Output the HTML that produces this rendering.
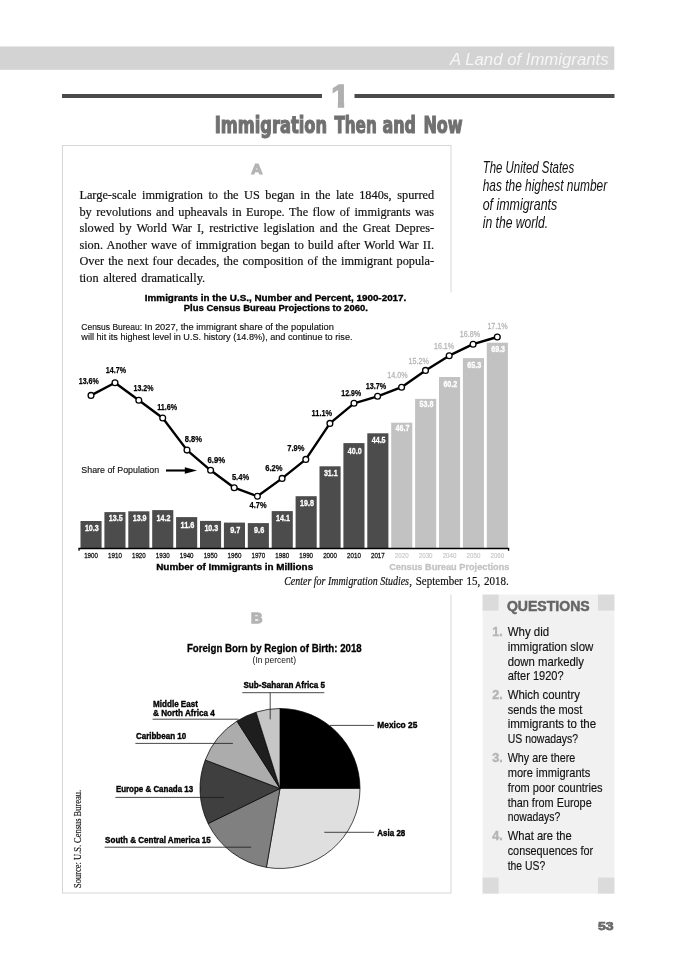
<!DOCTYPE html>
<html lang="en">
<head>
<meta charset="utf-8">
<title>Immigration Then and Now</title>
<style>
html,body{margin:0;padding:0;background:#fff;}
body{width:700px;height:972px;overflow:hidden;}
svg{display:block;will-change:transform;}
text{white-space:pre;}
</style>
</head>
<body>
<svg width="700" height="972" viewBox="0 0 700 972">
<rect x="0" y="0" width="700" height="972" fill="#fff"/>
<rect x="0.00" y="46.50" width="614.30" height="23.30" fill="#d3d3d3" />
<text x="450.00" y="65.00" font-family='"Liberation Sans", "DejaVu Sans", sans-serif' font-size="16" font-style="italic" fill="#f6f6f6" textLength="158.60" lengthAdjust="spacingAndGlyphs">A Land of Immigrants</text>
<rect x="62.00" y="94.00" width="260.00" height="4.00" fill="#4a4a4a" />
<rect x="354.50" y="94.00" width="260.00" height="4.00" fill="#4a4a4a" />
<clipPath id="one"><path d="M320 76 H350 V100 H344.15 V110 H337.85 V100 H320 Z"/></clipPath>
<g clip-path="url(#one)">
<text x="331.30" y="106.85" font-family='"Liberation Sans", "DejaVu Sans", sans-serif' font-size="32.2" font-weight="bold" fill="#b0b0b0" stroke="#b0b0b0" stroke-width="1.5" stroke-linejoin="miter">1</text>
</g>
<g transform="translate(214.8 132.6) scale(1.3 1)">
<text x="0.00" y="0.00" font-family='"DejaVu Sans Condensed", "DejaVu Sans", sans-serif' font-size="22.5" font-weight="bold" fill="#707070" textLength="86.38" lengthAdjust="spacingAndGlyphs" stroke="#707070" stroke-width="1.1" stroke-linejoin="miter">Immigration</text>
</g>
<g transform="translate(334.4 132.6) scale(1.3 1)">
<text x="0.00" y="0.00" font-family='"DejaVu Sans Condensed", "DejaVu Sans", sans-serif' font-size="22.5" font-weight="bold" fill="#707070" textLength="32.54" lengthAdjust="spacingAndGlyphs" stroke="#707070" stroke-width="1.1" stroke-linejoin="miter">Then</text>
</g>
<g transform="translate(382.4 132.6) scale(1.3 1)">
<text x="0.00" y="0.00" font-family='"DejaVu Sans Condensed", "DejaVu Sans", sans-serif' font-size="22.5" font-weight="bold" fill="#707070" textLength="25.77" lengthAdjust="spacingAndGlyphs" stroke="#707070" stroke-width="1.1" stroke-linejoin="miter">and</text>
</g>
<g transform="translate(423.4 132.6) scale(1.3 1)">
<text x="0.00" y="0.00" font-family='"DejaVu Sans Condensed", "DejaVu Sans", sans-serif' font-size="22.5" font-weight="bold" fill="#707070" textLength="30.23" lengthAdjust="spacingAndGlyphs" stroke="#707070" stroke-width="1.1" stroke-linejoin="miter">Now</text>
</g>
<rect x="62.5" y="145.5" width="388.5" height="747.5" fill="#fff" stroke="#d6d6d6" stroke-width="1"/>
<rect x="440.00" y="292.50" width="80.00" height="302.00" fill="#fff" />
<text x="251.30" y="174.30" font-family='"Liberation Sans", "DejaVu Sans", sans-serif' font-size="14.6" font-weight="bold" fill="#b4b4b4" textLength="11.20" lengthAdjust="spacingAndGlyphs" stroke="#b4b4b4" stroke-width="1.2" stroke-linejoin="miter">A</text>
<text x="251.00" y="623.10" font-family='"Liberation Sans", "DejaVu Sans", sans-serif' font-size="14.2" font-weight="bold" fill="#b4b4b4" textLength="11.40" lengthAdjust="spacingAndGlyphs" stroke="#b4b4b4" stroke-width="1.4" stroke-linejoin="miter">B</text>
<text x="79.40" y="199.10" font-family='"Liberation Serif", "DejaVu Serif", serif' font-size="13.3" fill="#111" textLength="354.70" lengthAdjust="spacingAndGlyphs" stroke="#111" stroke-width="0.2" word-spacing="2.65">Large-scale immigration to the US began in the late 1840s, spurred</text>
<text x="79.40" y="215.60" font-family='"Liberation Serif", "DejaVu Serif", serif' font-size="13.3" fill="#111" textLength="354.70" lengthAdjust="spacingAndGlyphs" stroke="#111" stroke-width="0.2" word-spacing="1.54">by revolutions and upheavals in Europe. The flow of immigrants was</text>
<text x="79.40" y="232.10" font-family='"Liberation Serif", "DejaVu Serif", serif' font-size="13.3" fill="#111" textLength="354.70" lengthAdjust="spacingAndGlyphs" stroke="#111" stroke-width="0.2" word-spacing="2.16">slowed by World War I, restrictive legislation and the Great Depres-</text>
<text x="79.40" y="248.60" font-family='"Liberation Serif", "DejaVu Serif", serif' font-size="13.3" fill="#111" textLength="354.70" lengthAdjust="spacingAndGlyphs" stroke="#111" stroke-width="0.2" word-spacing="1.22">sion. Another wave of immigration began to build after World War II.</text>
<text x="79.40" y="265.00" font-family='"Liberation Serif", "DejaVu Serif", serif' font-size="13.3" fill="#111" textLength="354.70" lengthAdjust="spacingAndGlyphs" stroke="#111" stroke-width="0.2" word-spacing="1.15">Over the next four decades, the composition of the immigrant popula-</text>
<text x="79.40" y="281.50" font-family='"Liberation Serif", "DejaVu Serif", serif' font-size="13.3" fill="#111" textLength="125.70" lengthAdjust="spacingAndGlyphs" stroke="#111" stroke-width="0.2" word-spacing="1.72">tion altered dramatically.</text>
<text x="482.70" y="172.70" font-family='"Liberation Sans", "DejaVu Sans", sans-serif' font-size="16.6" font-style="italic" fill="#111" textLength="91.50" lengthAdjust="spacingAndGlyphs">The United States</text>
<text x="482.70" y="191.20" font-family='"Liberation Sans", "DejaVu Sans", sans-serif' font-size="16.6" font-style="italic" fill="#111" textLength="124.50" lengthAdjust="spacingAndGlyphs">has the highest number</text>
<text x="482.70" y="209.80" font-family='"Liberation Sans", "DejaVu Sans", sans-serif' font-size="16.6" font-style="italic" fill="#111" textLength="74.50" lengthAdjust="spacingAndGlyphs">of immigrants</text>
<text x="482.70" y="228.30" font-family='"Liberation Sans", "DejaVu Sans", sans-serif' font-size="16.6" font-style="italic" fill="#111" textLength="65.50" lengthAdjust="spacingAndGlyphs">in the world.</text>
<text x="275.60" y="301.00" font-family='"Liberation Sans", "DejaVu Sans", sans-serif' font-size="8.4" font-weight="bold" text-anchor="middle" textLength="261.50" lengthAdjust="spacingAndGlyphs" stroke="#000" stroke-width="0.3">Immigrants in the U.S., Number and Percent, 1900-2017.</text>
<text x="275.80" y="310.70" font-family='"Liberation Sans", "DejaVu Sans", sans-serif' font-size="8.4" font-weight="bold" text-anchor="middle" textLength="184.00" lengthAdjust="spacingAndGlyphs" stroke="#000" stroke-width="0.3">Plus Census Bureau Projections to 2060.</text>
<text x="81.30" y="329.90" font-family='"Liberation Sans", "DejaVu Sans", sans-serif' font-size="9.2" fill="#111" textLength="60.80" lengthAdjust="spacingAndGlyphs" stroke="#111" stroke-width="0.15">Census Bureau:</text>
<text x="144.60" y="329.90" font-family='"Liberation Sans", "DejaVu Sans", sans-serif' font-size="9.2" fill="#111" textLength="189.20" lengthAdjust="spacingAndGlyphs" stroke="#111" stroke-width="0.15">In 2027, the immigrant share of the population</text>
<text x="81.30" y="340.20" font-family='"Liberation Sans", "DejaVu Sans", sans-serif' font-size="9.2" fill="#111" textLength="271.20" lengthAdjust="spacingAndGlyphs" stroke="#111" stroke-width="0.15">will hit its highest level in U.S. history (14.8%), and continue to rise.</text>
<rect x="80.50" y="521.00" width="21.10" height="27.20" fill="#4c4c4c" />
<text x="91.85" y="530.70" font-family='"Liberation Sans", "DejaVu Sans", sans-serif' font-size="9.1" font-weight="bold" fill="#fff" text-anchor="middle" textLength="13.90" lengthAdjust="spacingAndGlyphs" stroke="#fff" stroke-width="0.3">10.3</text>
<text x="91.05" y="558.35" font-family='"Liberation Sans", "DejaVu Sans", sans-serif' font-size="8.0" fill="#111" text-anchor="middle" textLength="13.80" lengthAdjust="spacingAndGlyphs" stroke="#111" stroke-width="0.3">1900</text>
<rect x="104.40" y="512.10" width="21.10" height="36.10" fill="#4c4c4c" />
<text x="115.75" y="521.30" font-family='"Liberation Sans", "DejaVu Sans", sans-serif' font-size="9.1" font-weight="bold" fill="#fff" text-anchor="middle" textLength="13.90" lengthAdjust="spacingAndGlyphs" stroke="#fff" stroke-width="0.3">13.5</text>
<text x="114.95" y="558.35" font-family='"Liberation Sans", "DejaVu Sans", sans-serif' font-size="8.0" fill="#111" text-anchor="middle" textLength="13.80" lengthAdjust="spacingAndGlyphs" stroke="#111" stroke-width="0.3">1910</text>
<rect x="128.30" y="511.30" width="21.10" height="36.90" fill="#4c4c4c" />
<text x="139.65" y="521.10" font-family='"Liberation Sans", "DejaVu Sans", sans-serif' font-size="9.1" font-weight="bold" fill="#fff" text-anchor="middle" textLength="13.90" lengthAdjust="spacingAndGlyphs" stroke="#fff" stroke-width="0.3">13.9</text>
<text x="138.85" y="558.35" font-family='"Liberation Sans", "DejaVu Sans", sans-serif' font-size="8.0" fill="#111" text-anchor="middle" textLength="13.80" lengthAdjust="spacingAndGlyphs" stroke="#111" stroke-width="0.3">1920</text>
<rect x="152.20" y="510.10" width="21.10" height="38.10" fill="#4c4c4c" />
<text x="163.55" y="520.60" font-family='"Liberation Sans", "DejaVu Sans", sans-serif' font-size="9.1" font-weight="bold" fill="#fff" text-anchor="middle" textLength="13.90" lengthAdjust="spacingAndGlyphs" stroke="#fff" stroke-width="0.3">14.2</text>
<text x="162.75" y="558.35" font-family='"Liberation Sans", "DejaVu Sans", sans-serif' font-size="8.0" fill="#111" text-anchor="middle" textLength="13.80" lengthAdjust="spacingAndGlyphs" stroke="#111" stroke-width="0.3">1930</text>
<rect x="176.10" y="517.10" width="21.10" height="31.10" fill="#4c4c4c" />
<text x="187.45" y="527.60" font-family='"Liberation Sans", "DejaVu Sans", sans-serif' font-size="9.1" font-weight="bold" fill="#fff" text-anchor="middle" textLength="13.90" lengthAdjust="spacingAndGlyphs" stroke="#fff" stroke-width="0.3">11.6</text>
<text x="186.65" y="558.35" font-family='"Liberation Sans", "DejaVu Sans", sans-serif' font-size="8.0" fill="#111" text-anchor="middle" textLength="13.80" lengthAdjust="spacingAndGlyphs" stroke="#111" stroke-width="0.3">1940</text>
<rect x="200.00" y="520.90" width="21.10" height="27.30" fill="#4c4c4c" />
<text x="211.35" y="530.90" font-family='"Liberation Sans", "DejaVu Sans", sans-serif' font-size="9.1" font-weight="bold" fill="#fff" text-anchor="middle" textLength="13.90" lengthAdjust="spacingAndGlyphs" stroke="#fff" stroke-width="0.3">10.3</text>
<text x="210.55" y="558.35" font-family='"Liberation Sans", "DejaVu Sans", sans-serif' font-size="8.0" fill="#111" text-anchor="middle" textLength="13.80" lengthAdjust="spacingAndGlyphs" stroke="#111" stroke-width="0.3">1950</text>
<rect x="223.90" y="522.60" width="21.10" height="25.60" fill="#4c4c4c" />
<text x="235.25" y="532.50" font-family='"Liberation Sans", "DejaVu Sans", sans-serif' font-size="9.1" font-weight="bold" fill="#fff" text-anchor="middle" textLength="10.20" lengthAdjust="spacingAndGlyphs" stroke="#fff" stroke-width="0.3">9.7</text>
<text x="234.45" y="558.35" font-family='"Liberation Sans", "DejaVu Sans", sans-serif' font-size="8.0" fill="#111" text-anchor="middle" textLength="13.80" lengthAdjust="spacingAndGlyphs" stroke="#111" stroke-width="0.3">1960</text>
<rect x="247.80" y="523.10" width="21.10" height="25.10" fill="#4c4c4c" />
<text x="259.15" y="532.90" font-family='"Liberation Sans", "DejaVu Sans", sans-serif' font-size="9.1" font-weight="bold" fill="#fff" text-anchor="middle" textLength="10.20" lengthAdjust="spacingAndGlyphs" stroke="#fff" stroke-width="0.3">9.6</text>
<text x="258.35" y="558.35" font-family='"Liberation Sans", "DejaVu Sans", sans-serif' font-size="8.0" fill="#111" text-anchor="middle" textLength="13.80" lengthAdjust="spacingAndGlyphs" stroke="#111" stroke-width="0.3">1970</text>
<rect x="271.70" y="511.10" width="21.10" height="37.10" fill="#4c4c4c" />
<text x="283.05" y="520.90" font-family='"Liberation Sans", "DejaVu Sans", sans-serif' font-size="9.1" font-weight="bold" fill="#fff" text-anchor="middle" textLength="13.90" lengthAdjust="spacingAndGlyphs" stroke="#fff" stroke-width="0.3">14.1</text>
<text x="282.25" y="558.35" font-family='"Liberation Sans", "DejaVu Sans", sans-serif' font-size="8.0" fill="#111" text-anchor="middle" textLength="13.80" lengthAdjust="spacingAndGlyphs" stroke="#111" stroke-width="0.3">1980</text>
<rect x="295.60" y="496.20" width="21.10" height="52.00" fill="#4c4c4c" />
<text x="306.95" y="505.90" font-family='"Liberation Sans", "DejaVu Sans", sans-serif' font-size="9.1" font-weight="bold" fill="#fff" text-anchor="middle" textLength="13.90" lengthAdjust="spacingAndGlyphs" stroke="#fff" stroke-width="0.3">19.8</text>
<text x="306.15" y="558.35" font-family='"Liberation Sans", "DejaVu Sans", sans-serif' font-size="8.0" fill="#111" text-anchor="middle" textLength="13.80" lengthAdjust="spacingAndGlyphs" stroke="#111" stroke-width="0.3">1990</text>
<rect x="319.50" y="466.30" width="21.10" height="81.90" fill="#4c4c4c" />
<text x="330.85" y="476.10" font-family='"Liberation Sans", "DejaVu Sans", sans-serif' font-size="9.1" font-weight="bold" fill="#fff" text-anchor="middle" textLength="13.90" lengthAdjust="spacingAndGlyphs" stroke="#fff" stroke-width="0.3">31.1</text>
<text x="330.05" y="558.35" font-family='"Liberation Sans", "DejaVu Sans", sans-serif' font-size="8.0" fill="#111" text-anchor="middle" textLength="13.80" lengthAdjust="spacingAndGlyphs" stroke="#111" stroke-width="0.3">2000</text>
<rect x="343.40" y="443.10" width="21.10" height="105.10" fill="#4c4c4c" />
<text x="354.75" y="453.60" font-family='"Liberation Sans", "DejaVu Sans", sans-serif' font-size="9.1" font-weight="bold" fill="#fff" text-anchor="middle" textLength="13.90" lengthAdjust="spacingAndGlyphs" stroke="#fff" stroke-width="0.3">40.0</text>
<text x="353.95" y="558.35" font-family='"Liberation Sans", "DejaVu Sans", sans-serif' font-size="8.0" fill="#111" text-anchor="middle" textLength="13.80" lengthAdjust="spacingAndGlyphs" stroke="#111" stroke-width="0.3">2010</text>
<rect x="367.30" y="433.30" width="21.10" height="114.90" fill="#4c4c4c" />
<text x="378.65" y="443.40" font-family='"Liberation Sans", "DejaVu Sans", sans-serif' font-size="9.1" font-weight="bold" fill="#fff" text-anchor="middle" textLength="13.90" lengthAdjust="spacingAndGlyphs" stroke="#fff" stroke-width="0.3">44.5</text>
<text x="377.85" y="558.35" font-family='"Liberation Sans", "DejaVu Sans", sans-serif' font-size="8.0" fill="#111" text-anchor="middle" textLength="13.80" lengthAdjust="spacingAndGlyphs" stroke="#111" stroke-width="0.3">2017</text>
<rect x="391.20" y="422.70" width="21.10" height="125.50" fill="#c2c2c2" />
<text x="402.55" y="431.40" font-family='"Liberation Sans", "DejaVu Sans", sans-serif' font-size="9.1" font-weight="bold" fill="#fff" text-anchor="middle" textLength="13.90" lengthAdjust="spacingAndGlyphs" stroke="#fff" stroke-width="0.3">46.7</text>
<text x="401.75" y="558.35" font-family='"Liberation Sans", "DejaVu Sans", sans-serif' font-size="8.0" fill="#c2c2c2" text-anchor="middle" textLength="13.80" lengthAdjust="spacingAndGlyphs" stroke="#c2c2c2" stroke-width="0.1">2020</text>
<rect x="415.10" y="398.90" width="21.10" height="149.30" fill="#c2c2c2" />
<text x="426.45" y="407.20" font-family='"Liberation Sans", "DejaVu Sans", sans-serif' font-size="9.1" font-weight="bold" fill="#fff" text-anchor="middle" textLength="13.90" lengthAdjust="spacingAndGlyphs" stroke="#fff" stroke-width="0.3">53.8</text>
<text x="425.65" y="558.35" font-family='"Liberation Sans", "DejaVu Sans", sans-serif' font-size="8.0" fill="#c2c2c2" text-anchor="middle" textLength="13.80" lengthAdjust="spacingAndGlyphs" stroke="#c2c2c2" stroke-width="0.1">2030</text>
<rect x="439.00" y="377.00" width="21.10" height="171.20" fill="#c2c2c2" />
<text x="450.35" y="386.50" font-family='"Liberation Sans", "DejaVu Sans", sans-serif' font-size="9.1" font-weight="bold" fill="#fff" text-anchor="middle" textLength="13.90" lengthAdjust="spacingAndGlyphs" stroke="#fff" stroke-width="0.3">60.2</text>
<text x="449.55" y="558.35" font-family='"Liberation Sans", "DejaVu Sans", sans-serif' font-size="8.0" fill="#c2c2c2" text-anchor="middle" textLength="13.80" lengthAdjust="spacingAndGlyphs" stroke="#c2c2c2" stroke-width="0.1">2040</text>
<rect x="462.90" y="358.10" width="21.10" height="190.10" fill="#c2c2c2" />
<text x="474.25" y="367.80" font-family='"Liberation Sans", "DejaVu Sans", sans-serif' font-size="9.1" font-weight="bold" fill="#fff" text-anchor="middle" textLength="13.90" lengthAdjust="spacingAndGlyphs" stroke="#fff" stroke-width="0.3">65.3</text>
<text x="473.45" y="558.35" font-family='"Liberation Sans", "DejaVu Sans", sans-serif' font-size="8.0" fill="#c2c2c2" text-anchor="middle" textLength="13.80" lengthAdjust="spacingAndGlyphs" stroke="#c2c2c2" stroke-width="0.1">2050</text>
<rect x="486.80" y="342.70" width="21.10" height="205.50" fill="#c2c2c2" />
<text x="498.15" y="351.60" font-family='"Liberation Sans", "DejaVu Sans", sans-serif' font-size="9.1" font-weight="bold" fill="#fff" text-anchor="middle" textLength="13.90" lengthAdjust="spacingAndGlyphs" stroke="#fff" stroke-width="0.3">69.3</text>
<text x="497.35" y="558.35" font-family='"Liberation Sans", "DejaVu Sans", sans-serif' font-size="8.0" fill="#c2c2c2" text-anchor="middle" textLength="13.80" lengthAdjust="spacingAndGlyphs" stroke="#c2c2c2" stroke-width="0.1">2060</text>
<path d="M79.0 550.8 V548.5 H508.6 V550.8" fill="none" stroke="#000" stroke-width="1.3"/>
<text x="156.20" y="569.70" font-family='"Liberation Sans", "DejaVu Sans", sans-serif' font-size="8.6" font-weight="bold" textLength="157.00" lengthAdjust="spacingAndGlyphs" stroke="#000" stroke-width="0.3">Number of Immigrants in Millions</text>
<text x="389.20" y="569.80" font-family='"Liberation Sans", "DejaVu Sans", sans-serif' font-size="8.6" font-weight="bold" fill="#c4c4c4" textLength="120.20" lengthAdjust="spacingAndGlyphs" stroke="#c4c4c4" stroke-width="0.3">Census Bureau Projections</text>
<text x="284.20" y="585.30" font-family='"Liberation Serif", "DejaVu Serif", serif' font-size="13.3" font-style="italic" fill="#111" textLength="124.80" lengthAdjust="spacingAndGlyphs" stroke="#111" stroke-width="0.2" word-spacing="0.00">Center for Immigration Studies</text>
<text x="409.20" y="585.30" font-family='"Liberation Serif", "DejaVu Serif", serif' font-size="13.3" fill="#111" textLength="99.60" lengthAdjust="spacingAndGlyphs" stroke="#111" stroke-width="0.2" word-spacing="1.20">, September 15, 2018.</text>
<polyline points="91.0,395.4 115.0,382.8 138.8,400.3 162.7,418.0 187.0,450.1 210.6,470.3 234.2,487.7 257.4,496.3 282.1,478.4 305.8,459.4 329.9,423.4 354.0,403.3 377.6,396.3 401.6,387.2 425.5,370.4 449.2,355.7 473.1,344.2 497.3,337.0" fill="none" stroke="#000" stroke-width="2.4" stroke-linejoin="round"/>
<circle cx="91.0" cy="395.4" r="2.9" fill="#fff" stroke="#000" stroke-width="1.3"/>
<circle cx="115.0" cy="382.8" r="2.9" fill="#fff" stroke="#000" stroke-width="1.3"/>
<circle cx="138.8" cy="400.3" r="2.9" fill="#fff" stroke="#000" stroke-width="1.3"/>
<circle cx="162.7" cy="418.0" r="2.9" fill="#fff" stroke="#000" stroke-width="1.3"/>
<circle cx="187.0" cy="450.1" r="2.9" fill="#fff" stroke="#000" stroke-width="1.3"/>
<circle cx="210.6" cy="470.3" r="2.9" fill="#fff" stroke="#000" stroke-width="1.3"/>
<circle cx="234.2" cy="487.7" r="2.9" fill="#fff" stroke="#000" stroke-width="1.3"/>
<circle cx="257.4" cy="496.3" r="2.9" fill="#fff" stroke="#000" stroke-width="1.3"/>
<circle cx="282.1" cy="478.4" r="2.9" fill="#fff" stroke="#000" stroke-width="1.3"/>
<circle cx="305.8" cy="459.4" r="2.9" fill="#fff" stroke="#000" stroke-width="1.3"/>
<circle cx="329.9" cy="423.4" r="2.9" fill="#fff" stroke="#000" stroke-width="1.3"/>
<circle cx="354.0" cy="403.3" r="2.9" fill="#fff" stroke="#000" stroke-width="1.3"/>
<circle cx="377.6" cy="396.3" r="2.9" fill="#fff" stroke="#000" stroke-width="1.3"/>
<circle cx="401.6" cy="387.2" r="2.9" fill="#fff" stroke="#000" stroke-width="1.3"/>
<circle cx="425.5" cy="370.4" r="2.9" fill="#fff" stroke="#000" stroke-width="1.3"/>
<circle cx="449.2" cy="355.7" r="2.9" fill="#fff" stroke="#000" stroke-width="1.3"/>
<circle cx="473.1" cy="344.2" r="2.9" fill="#fff" stroke="#000" stroke-width="1.3"/>
<circle cx="497.3" cy="337.0" r="2.9" fill="#fff" stroke="#000" stroke-width="1.3"/>
<text x="78.70" y="384.40" font-family='"Liberation Sans", "DejaVu Sans", sans-serif' font-size="9.8" font-weight="bold" textLength="20.10" lengthAdjust="spacingAndGlyphs" stroke="#000" stroke-width="0.25">13.6%</text>
<text x="105.80" y="373.10" font-family='"Liberation Sans", "DejaVu Sans", sans-serif' font-size="9.8" font-weight="bold" textLength="20.20" lengthAdjust="spacingAndGlyphs" stroke="#000" stroke-width="0.25">14.7%</text>
<text x="133.50" y="390.60" font-family='"Liberation Sans", "DejaVu Sans", sans-serif' font-size="9.8" font-weight="bold" textLength="20.00" lengthAdjust="spacingAndGlyphs" stroke="#000" stroke-width="0.25">13.2%</text>
<text x="157.20" y="410.30" font-family='"Liberation Sans", "DejaVu Sans", sans-serif' font-size="9.8" font-weight="bold" textLength="20.00" lengthAdjust="spacingAndGlyphs" stroke="#000" stroke-width="0.25">11.6%</text>
<text x="184.80" y="441.70" font-family='"Liberation Sans", "DejaVu Sans", sans-serif' font-size="9.8" font-weight="bold" textLength="17.30" lengthAdjust="spacingAndGlyphs" stroke="#000" stroke-width="0.25">8.8%</text>
<text x="207.50" y="462.50" font-family='"Liberation Sans", "DejaVu Sans", sans-serif' font-size="9.8" font-weight="bold" textLength="17.70" lengthAdjust="spacingAndGlyphs" stroke="#000" stroke-width="0.25">6.9%</text>
<text x="231.90" y="479.70" font-family='"Liberation Sans", "DejaVu Sans", sans-serif' font-size="9.8" font-weight="bold" textLength="17.20" lengthAdjust="spacingAndGlyphs" stroke="#000" stroke-width="0.25">5.4%</text>
<text x="249.50" y="508.40" font-family='"Liberation Sans", "DejaVu Sans", sans-serif' font-size="9.8" font-weight="bold" textLength="17.10" lengthAdjust="spacingAndGlyphs" stroke="#000" stroke-width="0.25">4.7%</text>
<text x="265.30" y="470.70" font-family='"Liberation Sans", "DejaVu Sans", sans-serif' font-size="9.8" font-weight="bold" textLength="17.30" lengthAdjust="spacingAndGlyphs" stroke="#000" stroke-width="0.25">6.2%</text>
<text x="287.20" y="450.70" font-family='"Liberation Sans", "DejaVu Sans", sans-serif' font-size="9.8" font-weight="bold" textLength="17.20" lengthAdjust="spacingAndGlyphs" stroke="#000" stroke-width="0.25">7.9%</text>
<text x="311.60" y="415.90" font-family='"Liberation Sans", "DejaVu Sans", sans-serif' font-size="9.8" font-weight="bold" textLength="20.60" lengthAdjust="spacingAndGlyphs" stroke="#000" stroke-width="0.25">11.1%</text>
<text x="341.30" y="396.00" font-family='"Liberation Sans", "DejaVu Sans", sans-serif' font-size="9.8" font-weight="bold" textLength="19.80" lengthAdjust="spacingAndGlyphs" stroke="#000" stroke-width="0.25">12.9%</text>
<text x="365.70" y="388.50" font-family='"Liberation Sans", "DejaVu Sans", sans-serif' font-size="9.8" font-weight="bold" textLength="20.60" lengthAdjust="spacingAndGlyphs" stroke="#000" stroke-width="0.25">13.7%</text>
<text x="387.20" y="377.90" font-family='"Liberation Sans", "DejaVu Sans", sans-serif' font-size="9.5" fill="#b6b6b6" textLength="20.50" lengthAdjust="spacingAndGlyphs" stroke="#b6b6b6" stroke-width="0.3">14.0%</text>
<text x="408.60" y="363.70" font-family='"Liberation Sans", "DejaVu Sans", sans-serif' font-size="9.5" fill="#b6b6b6" textLength="20.40" lengthAdjust="spacingAndGlyphs" stroke="#b6b6b6" stroke-width="0.3">15.2%</text>
<text x="434.00" y="348.80" font-family='"Liberation Sans", "DejaVu Sans", sans-serif' font-size="9.5" fill="#b6b6b6" textLength="20.10" lengthAdjust="spacingAndGlyphs" stroke="#b6b6b6" stroke-width="0.3">16.1%</text>
<text x="459.80" y="337.20" font-family='"Liberation Sans", "DejaVu Sans", sans-serif' font-size="9.5" fill="#b6b6b6" textLength="20.30" lengthAdjust="spacingAndGlyphs" stroke="#b6b6b6" stroke-width="0.3">16.8%</text>
<text x="487.40" y="329.20" font-family='"Liberation Sans", "DejaVu Sans", sans-serif' font-size="9.5" fill="#b6b6b6" textLength="20.20" lengthAdjust="spacingAndGlyphs" stroke="#b6b6b6" stroke-width="0.3">17.1%</text>
<text x="81.30" y="473.00" font-family='"Liberation Sans", "DejaVu Sans", sans-serif' font-size="9.2" fill="#111" textLength="77.80" lengthAdjust="spacingAndGlyphs" stroke="#111" stroke-width="0.15">Share of Population</text>
<path d="M166 470.5 H187" fill="none" stroke="#000" stroke-width="2.1"/>
<path d="M184.8 467.3 L197 470.5 L184.8 473.7 Z" fill="#000"/>
<text x="274.30" y="652.00" font-family='"Liberation Sans", "DejaVu Sans", sans-serif' font-size="11.7" font-weight="bold" text-anchor="middle" textLength="174.80" lengthAdjust="spacingAndGlyphs" stroke="#000" stroke-width="0.3">Foreign Born by Region of Birth: 2018</text>
<text x="274.30" y="663.30" font-family='"Liberation Sans", "DejaVu Sans", sans-serif' font-size="8.8" fill="#111" text-anchor="middle" textLength="43.40" lengthAdjust="spacingAndGlyphs">(In percent)</text>
<path d="M280.0 788.5 L280.00 708.50 A80.0 80.0 0 0 1 360.00 788.50 Z" fill="#000" stroke="#000" stroke-width="0.7" stroke-linejoin="round"/>
<path d="M280.0 788.5 L360.00 788.50 A80.0 80.0 0 0 1 266.38 867.33 Z" fill="#dfdfdf" stroke="#000" stroke-width="0.7" stroke-linejoin="round"/>
<path d="M280.0 788.5 L266.38 867.33 A80.0 80.0 0 0 1 208.10 823.57 Z" fill="#808080" stroke="#000" stroke-width="0.7" stroke-linejoin="round"/>
<path d="M280.0 788.5 L208.10 823.57 A80.0 80.0 0 0 1 205.26 759.96 Z" fill="#3f3f3f" stroke="#000" stroke-width="0.7" stroke-linejoin="round"/>
<path d="M280.0 788.5 L205.26 759.96 A80.0 80.0 0 0 1 236.90 721.10 Z" fill="#acacac" stroke="#000" stroke-width="0.7" stroke-linejoin="round"/>
<path d="M280.0 788.5 L236.90 721.10 A80.0 80.0 0 0 1 256.08 712.16 Z" fill="#1e1e1e" stroke="#000" stroke-width="0.7" stroke-linejoin="round"/>
<path d="M280.0 788.5 L256.08 712.16 A80.0 80.0 0 0 1 280.00 708.50 Z" fill="#c6c6c6" stroke="#000" stroke-width="0.7" stroke-linejoin="round"/>
<path d="M330 725.4 H374" stroke="#1a1a1a" stroke-width="0.8" fill="none"/>
<path d="M324.3 832.3 H374" stroke="#1a1a1a" stroke-width="0.8" fill="none"/>
<path d="M104.6 847.2 H251.2" stroke="#1a1a1a" stroke-width="0.8" fill="none"/>
<path d="M115.4 797.4 H224.3" stroke="#1a1a1a" stroke-width="0.8" fill="none"/>
<path d="M135.4 743.4 H232.9" stroke="#1a1a1a" stroke-width="0.8" fill="none"/>
<path d="M152.6 719.2 H238.6" stroke="#1a1a1a" stroke-width="0.8" fill="none"/>
<path d="M242.3 692.7 H324.3 M270.2 692.7 V719.4" stroke="#1a1a1a" stroke-width="0.8" fill="none"/>
<text x="243.40" y="688.40" font-family='"Liberation Sans", "DejaVu Sans", sans-serif' font-size="9.8" font-weight="bold" textLength="81.70" lengthAdjust="spacingAndGlyphs" stroke="#000" stroke-width="0.4">Sub-Saharan Africa 5</text>
<text x="153.10" y="706.50" font-family='"Liberation Sans", "DejaVu Sans", sans-serif' font-size="9.8" font-weight="bold" textLength="44.80" lengthAdjust="spacingAndGlyphs" stroke="#000" stroke-width="0.4">Middle East</text>
<text x="153.10" y="716.20" font-family='"Liberation Sans", "DejaVu Sans", sans-serif' font-size="9.8" font-weight="bold" textLength="61.70" lengthAdjust="spacingAndGlyphs" stroke="#000" stroke-width="0.4">&amp; North Africa 4</text>
<text x="135.90" y="739.30" font-family='"Liberation Sans", "DejaVu Sans", sans-serif' font-size="9.8" font-weight="bold" textLength="50.30" lengthAdjust="spacingAndGlyphs" stroke="#000" stroke-width="0.4">Caribbean 10</text>
<text x="115.90" y="791.90" font-family='"Liberation Sans", "DejaVu Sans", sans-serif' font-size="9.8" font-weight="bold" textLength="77.20" lengthAdjust="spacingAndGlyphs" stroke="#000" stroke-width="0.4">Europe &amp; Canada 13</text>
<text x="105.10" y="842.80" font-family='"Liberation Sans", "DejaVu Sans", sans-serif' font-size="9.8" font-weight="bold" textLength="105.70" lengthAdjust="spacingAndGlyphs" stroke="#000" stroke-width="0.4">South &amp; Central America 15</text>
<text x="377.30" y="727.80" font-family='"Liberation Sans", "DejaVu Sans", sans-serif' font-size="9.8" font-weight="bold" textLength="40.00" lengthAdjust="spacingAndGlyphs" stroke="#000" stroke-width="0.4">Mexico 25</text>
<text x="377.30" y="835.70" font-family='"Liberation Sans", "DejaVu Sans", sans-serif' font-size="9.8" font-weight="bold" textLength="28.00" lengthAdjust="spacingAndGlyphs" stroke="#000" stroke-width="0.4">Asia 28</text>
<text transform="translate(80.8 887.9) rotate(-90)" font-family='"Liberation Serif", "DejaVu Serif", serif' font-size="10.1" fill="#111" stroke="#111" stroke-width="0.15" textLength="98" lengthAdjust="spacingAndGlyphs">Source: U.S. Census Bureau.</text>
<rect x="482.60" y="594.60" width="131.80" height="299.00" fill="#f1f1f1" />
<rect x="482.60" y="594.60" width="16.00" height="16.00" fill="#dbdbdb" />
<rect x="598.00" y="594.60" width="16.40" height="16.00" fill="#dbdbdb" />
<rect x="482.60" y="877.60" width="16.00" height="16.00" fill="#dbdbdb" />
<rect x="598.00" y="877.60" width="16.40" height="16.00" fill="#dbdbdb" />
<text x="506.90" y="611.30" font-family='"Liberation Sans", "DejaVu Sans", sans-serif' font-size="14.3" font-weight="bold" fill="#666" textLength="82.80" lengthAdjust="spacingAndGlyphs" stroke="#666" stroke-width="0.5">QUESTIONS</text>
<text x="492.20" y="635.70" font-family='"Liberation Sans", "DejaVu Sans", sans-serif' font-size="12.5" font-weight="bold" fill="#b4b4b4" textLength="10.50" lengthAdjust="spacingAndGlyphs" stroke="#b4b4b4" stroke-width="0.4">1.</text>
<text x="507.70" y="635.70" font-family='"Liberation Sans", "DejaVu Sans", sans-serif' font-size="12.6" fill="#111" textLength="41.50" lengthAdjust="spacingAndGlyphs" stroke="#111" stroke-width="0.15">Why did</text>
<text x="507.70" y="650.70" font-family='"Liberation Sans", "DejaVu Sans", sans-serif' font-size="12.6" fill="#111" textLength="85.70" lengthAdjust="spacingAndGlyphs" stroke="#111" stroke-width="0.15">immigration slow</text>
<text x="507.70" y="665.60" font-family='"Liberation Sans", "DejaVu Sans", sans-serif' font-size="12.6" fill="#111" textLength="76.30" lengthAdjust="spacingAndGlyphs" stroke="#111" stroke-width="0.15">down markedly</text>
<text x="507.70" y="680.00" font-family='"Liberation Sans", "DejaVu Sans", sans-serif' font-size="12.6" fill="#111" textLength="56.00" lengthAdjust="spacingAndGlyphs" stroke="#111" stroke-width="0.15">after 1920?</text>
<text x="492.20" y="698.60" font-family='"Liberation Sans", "DejaVu Sans", sans-serif' font-size="12.5" font-weight="bold" fill="#b4b4b4" textLength="10.50" lengthAdjust="spacingAndGlyphs" stroke="#b4b4b4" stroke-width="0.4">2.</text>
<text x="507.70" y="698.60" font-family='"Liberation Sans", "DejaVu Sans", sans-serif' font-size="12.6" fill="#111" textLength="72.30" lengthAdjust="spacingAndGlyphs" stroke="#111" stroke-width="0.15">Which country</text>
<text x="507.70" y="713.50" font-family='"Liberation Sans", "DejaVu Sans", sans-serif' font-size="12.6" fill="#111" textLength="74.50" lengthAdjust="spacingAndGlyphs" stroke="#111" stroke-width="0.15">sends the most</text>
<text x="507.70" y="728.30" font-family='"Liberation Sans", "DejaVu Sans", sans-serif' font-size="12.6" fill="#111" textLength="88.50" lengthAdjust="spacingAndGlyphs" stroke="#111" stroke-width="0.15">immigrants to the</text>
<text x="507.70" y="742.80" font-family='"Liberation Sans", "DejaVu Sans", sans-serif' font-size="12.6" fill="#111" textLength="70.50" lengthAdjust="spacingAndGlyphs" stroke="#111" stroke-width="0.15">US nowadays?</text>
<text x="492.20" y="762.20" font-family='"Liberation Sans", "DejaVu Sans", sans-serif' font-size="12.5" font-weight="bold" fill="#b4b4b4" textLength="10.50" lengthAdjust="spacingAndGlyphs" stroke="#b4b4b4" stroke-width="0.4">3.</text>
<text x="507.70" y="762.20" font-family='"Liberation Sans", "DejaVu Sans", sans-serif' font-size="12.6" fill="#111" textLength="67.50" lengthAdjust="spacingAndGlyphs" stroke="#111" stroke-width="0.15">Why are there</text>
<text x="507.70" y="777.00" font-family='"Liberation Sans", "DejaVu Sans", sans-serif' font-size="12.6" fill="#111" textLength="82.50" lengthAdjust="spacingAndGlyphs" stroke="#111" stroke-width="0.15">more immigrants</text>
<text x="507.70" y="791.90" font-family='"Liberation Sans", "DejaVu Sans", sans-serif' font-size="12.6" fill="#111" textLength="94.90" lengthAdjust="spacingAndGlyphs" stroke="#111" stroke-width="0.15">from poor countries</text>
<text x="507.70" y="806.70" font-family='"Liberation Sans", "DejaVu Sans", sans-serif' font-size="12.6" fill="#111" textLength="84.00" lengthAdjust="spacingAndGlyphs" stroke="#111" stroke-width="0.15">than from Europe</text>
<text x="507.70" y="821.20" font-family='"Liberation Sans", "DejaVu Sans", sans-serif' font-size="12.6" fill="#111" textLength="52.50" lengthAdjust="spacingAndGlyphs" stroke="#111" stroke-width="0.15">nowadays?</text>
<text x="492.20" y="839.90" font-family='"Liberation Sans", "DejaVu Sans", sans-serif' font-size="12.5" font-weight="bold" fill="#b4b4b4" textLength="10.50" lengthAdjust="spacingAndGlyphs" stroke="#b4b4b4" stroke-width="0.4">4.</text>
<text x="507.70" y="839.90" font-family='"Liberation Sans", "DejaVu Sans", sans-serif' font-size="12.6" fill="#111" textLength="64.00" lengthAdjust="spacingAndGlyphs" stroke="#111" stroke-width="0.15">What are the</text>
<text x="507.70" y="855.00" font-family='"Liberation Sans", "DejaVu Sans", sans-serif' font-size="12.6" fill="#111" textLength="85.50" lengthAdjust="spacingAndGlyphs" stroke="#111" stroke-width="0.15">consequences for</text>
<text x="507.70" y="869.60" font-family='"Liberation Sans", "DejaVu Sans", sans-serif' font-size="12.6" fill="#111" textLength="37.50" lengthAdjust="spacingAndGlyphs" stroke="#111" stroke-width="0.15">the US?</text>
<text x="613.60" y="930.20" font-family='"Liberation Sans", "DejaVu Sans", sans-serif' font-size="11.4" font-weight="bold" fill="#6a6a6a" text-anchor="end" textLength="15.60" lengthAdjust="spacingAndGlyphs" stroke="#6a6a6a" stroke-width="0.75">53</text>
</svg>
</body>
</html>
